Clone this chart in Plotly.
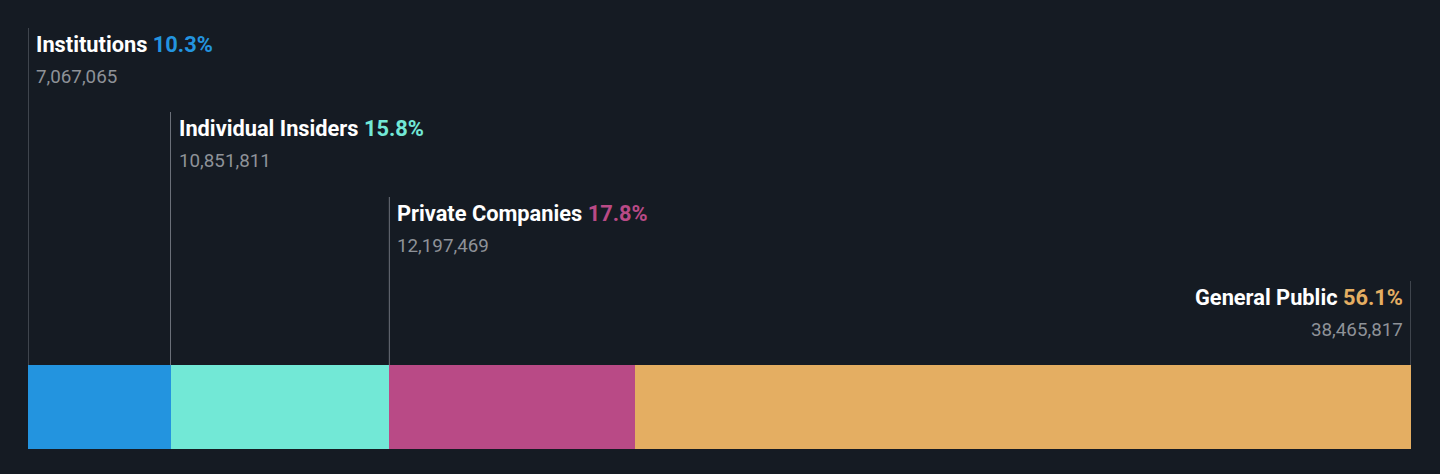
import plotly.graph_objects as go
import numpy as np

categories = ["Institutions", "Individual Insiders", "Private Companies", "General Public"]
shares = [7067065, 10851811, 12197469, 38465817]
percents = ["10.3%", "15.8%", "17.8%", "56.1%"]
colors = ["#2394df", "#72e8d6", "#b94a86", "#e4ae62"]

W, H = 1440, 474
BG = "#151b23"
total = sum(shares)
starts = np.concatenate([[0], np.cumsum(shares)[:-1]])

fig = go.Figure()
for c, s, col in zip(categories, shares, colors):
    fig.add_trace(go.Bar(
        y=[407], x=[s], orientation="h", width=84, name=c,
        marker=dict(color=col, line=dict(width=0)), hoverinfo="skip",
    ))

line_tops = [28, 112, 197, 281]
for i, (c, s, p, col) in enumerate(zip(categories, shares, percents, colors)):
    last = i == len(categories) - 1
    xpos = starts[i] + shares[i] if last else starts[i]
    top = line_tops[i]
    fig.add_shape(type="line", x0=xpos, x1=xpos, y0=top, y1=365,
                  xref="x", yref="y", line=dict(color="#6b7079", width=1), layer="below")
    anchor = "right" if last else "left"
    shift = -6 if last else 6
    fig.add_annotation(
        x=xpos, y=top + 16, xref="x", yref="y", xanchor=anchor, yanchor="middle",
        xshift=shift, showarrow=False,
        text=f"<b>{c}</b> <b><span style='color:{col}'>{p}</span></b>",
        font=dict(family="Roboto", size=21.8, color="#ffffff"),
    )
    fig.add_annotation(
        x=xpos, y=top + 49, xref="x", yref="y", xanchor=anchor, yanchor="middle",
        xshift=shift, showarrow=False,
        text=f"{s:,}",
        font=dict(family="Roboto", size=18.8, color="#8e9298"),
    )

fig.update_layout(
    width=W, height=H, barmode="stack", showlegend=False,
    paper_bgcolor=BG, plot_bgcolor=BG,
    margin=dict(l=0, r=0, t=0, b=0), bargap=0,
    xaxis=dict(range=[0, total], domain=[28 / W, 1411 / W], visible=False, fixedrange=True),
    yaxis=dict(range=[H, 0], visible=False, fixedrange=True),
)
fig.write_html(
    "out.html",
    config={"displayModeBar": False},
    post_script="document.body.style.margin='0';document.body.style.background='%s';" % BG,
)
